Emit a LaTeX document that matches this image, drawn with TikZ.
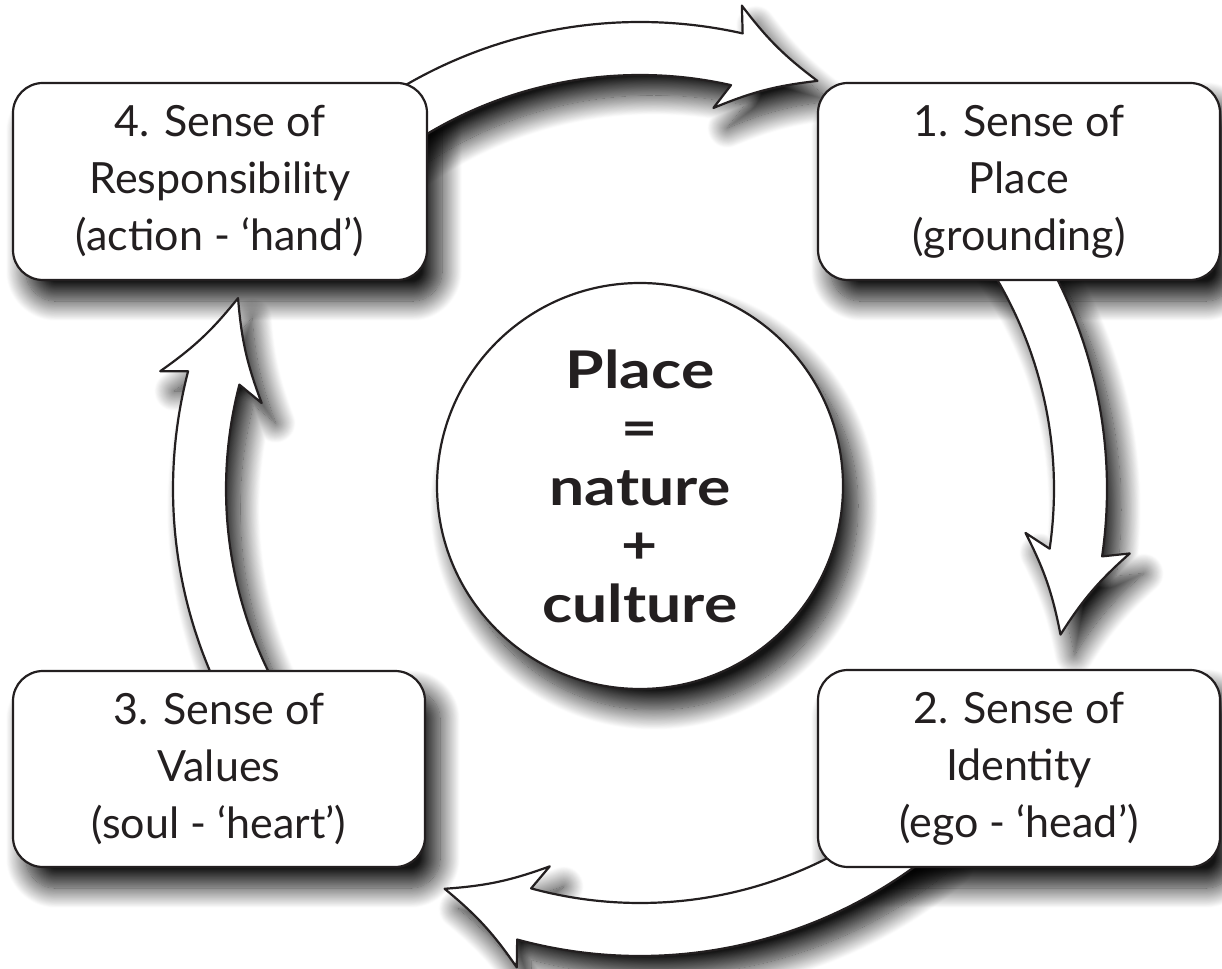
\documentclass[tikz,border=0pt]{standalone}
\usepackage{fontspec}
\setmainfont{Lato}
\newfontfamily\hubfont[FakeStretch=1.2]{Lato}
\usetikzlibrary{shadows.blur}
\definecolor{ink}{HTML}{231F20}
\pgfdeclarelayer{shadowlayer}
\pgfdeclarelayer{arrowlayer}
\pgfsetlayers{shadowlayer,arrowlayer,main}
\newcommand{\ringarrow}[3]{%
  \path[#3] (#1:467pt) arc[start angle=#1, end angle=#2, radius=467pt]
  -- ({#2+0.8}:494pt) to[bend right=8] ({#2-10.8}:445pt) to[bend right=8] ({#2+1.8}:388pt)
  -- (#2:414pt) arc[start angle=#2, end angle=#1, radius=414pt] -- cycle;}
\begin{document}
\begin{tikzpicture}[x=1pt,y=1pt,
  shadowstyle/.style={blur shadow={shadow xshift=14pt, shadow yshift=-20pt, shadow blur radius=20pt, shadow opacity=92, shadow blur steps=24}},
  shapeline/.style={draw=ink, line width=2.2pt, fill=white, line join=round},
  box/.style={shapeline, rounded corners=30pt, align=center, font=\fontsize{43}{57}\selectfont, text=ink, inner sep=0pt},
  hub/.style={shapeline, circle, minimum size=406pt, inner sep=0pt, align=center, font=\hubfont\fontsize{52}{58.5}\selectfont\bfseries, text=ink}]
\useasboundingbox (0,0) rectangle (1222,968);
\node[box, minimum width=414pt, minimum height=197pt] (b4) at (220,786.5) {4. Sense of\\Responsibility\\(action - ‘hand’)};
\node[box, minimum width=402pt, minimum height=197pt] (b1) at (1019,786.5) {1. Sense of\\Place\\(grounding)};
\node[box, minimum width=412pt, minimum height=196pt] (b3) at (219,199) {3. Sense of\\Values\\(soul - ‘heart’)};
\node[box, minimum width=402pt, minimum height=197pt] (b2) at (1019,199.5) {2. Sense of\\Identity\\(ego - ‘head’)};
\node[hub] (hub) at (640,482) {Place\\=\\nature\\+\\culture};
\begin{pgfonlayer}{shadowlayer}
  \path[shadowstyle, rounded corners=30pt] (b4.south west) rectangle (b4.north east);
  \path[shadowstyle, rounded corners=30pt] (b1.south west) rectangle (b1.north east);
  \path[shadowstyle, rounded corners=30pt] (b3.south west) rectangle (b3.north east);
  \path[shadowstyle, rounded corners=30pt] (b2.south west) rectangle (b2.north east);
  \path[shadowstyle] (hub.center) circle[radius=204pt];
  \begin{scope}[shift={(640,479)}]
    \ringarrow{125}{77.3}{shadowstyle}
    \ringarrow{35}{-8.3}{shadowstyle}
    \ringarrow{-50}{-105.25}{shadowstyle}
    \ringarrow{-150}{-194.6}{shadowstyle}
  \end{scope}
\end{pgfonlayer}
\begin{pgfonlayer}{arrowlayer}
  \begin{scope}[shift={(640,479)}]
    \ringarrow{125}{77.3}{shapeline}
    \ringarrow{35}{-8.3}{shapeline}
    \ringarrow{-50}{-105.25}{shapeline}
    \ringarrow{-150}{-194.6}{shapeline}
  \end{scope}
\end{pgfonlayer}
\end{tikzpicture}
\end{document}
